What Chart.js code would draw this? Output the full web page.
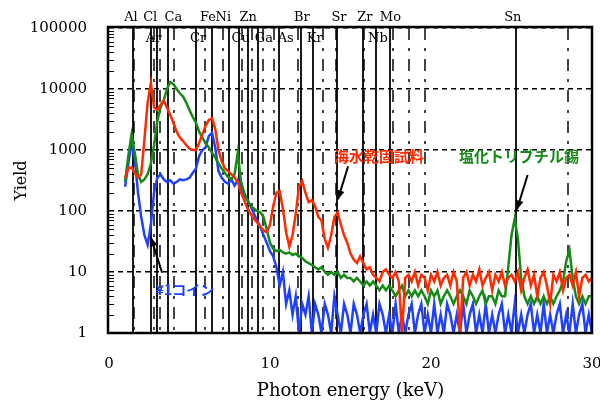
<!DOCTYPE html>
<html><head><meta charset="utf-8">
<script src="https://cdn.jsdelivr.net/npm/chart.js@4"></script>
<style>html,body{margin:0;padding:0;background:#fff}</style>
</head><body>
<canvas id="c" width="600" height="403"></canvas>
<script>
const energy = [1.0,1.2,1.4,1.6,1.8,2.0,2.2,2.4,2.6,2.8,3.0,3.2,3.4,3.6,3.8,4.0,4.2,4.4,4.6,4.8,
5.0,5.2,5.4,5.6,5.8,6.0,6.2,6.4,6.6,6.8,7.0,7.2,7.4,7.6,7.8,8.0,8.2,8.4,8.6,8.8,
9.0,9.2,9.4,9.6,9.8,10.0,10.2,10.4,10.6,10.8,11.0,11.2,11.4,11.6,11.8,12.0,12.2,12.4,12.6,12.8,
13.0,13.2,13.4,13.6,13.8,14.0,14.2,14.4,14.6,14.8,15.0,15.2,15.4,15.6,15.8,16.0,16.2,16.4,16.6,16.8,
17.0,17.2,17.4,17.6,17.8,18.0,18.2,18.4,18.6,18.8,19.0,19.2,19.4,19.6,19.8,20.0,20.2,20.4,20.6,20.8,
21.0,21.2,21.4,21.6,21.8,22.0,22.2,22.4,22.6,22.8,23.0,23.2,23.4,23.6,23.8,24.0,24.2,24.4,24.6,24.8,
25.0,25.2,25.4,25.6,25.8,26.0,26.2,26.4,26.6,26.8,27.0,27.2,27.4,27.6,27.8,28.0,28.2,28.4,28.6,28.8,
29.0,29.2,29.4,29.6,29.8,30.0];

const coinYield = [250,600,1300,700,200,80,40,28,60,200,350,400,330,300,320,280,300,330,320,330,
350,420,500,800,1000,1100,1700,1900,1100,450,350,300,280,330,260,320,250,180,150,120,
90,70,55,40,30,22,18,12,6,10,3,5,2,4,1,3,2,4,1,3,
2,1,3,2,1,4,2,1,3,2,1,3,2,1,2,3,1,2,1,3,
2,1,2,1,3,1,2,1,2,3,1,2,3,1,2,1,3,1,2,1,
3,2,1,2,1,3,1,2,3,1,2,1,3,1,2,1,2,3,1,2,
1,3,1,2,1,2,3,1,2,1,3,1,2,1,2,3,1,2,1,3,
1,2,3,1,2,1];

const seawaterYield = [350,500,520,420,350,400,1500,6000,12500,5000,4500,5500,6500,5000,3800,2800,2000,1600,1400,1200,
1050,1000,1000,1300,1800,2500,3100,3300,2200,1000,650,500,450,400,350,300,200,150,110,90,
75,65,55,48,45,60,120,200,210,110,45,26,40,90,250,310,200,140,150,120,
80,70,35,25,40,80,95,60,40,30,20,16,14,18,14,11,12,9,8,7,
10,11,9,8,10,7,1,8,9,7,10,6,9,8,5,9,7,10,6,8,
9,6,10,7,1,8,10,6,9,7,11,6,8,10,5,9,7,10,6,8,
9,7,10,5,8,11,6,9,4,8,10,6,3,9,7,10,5,8,9,6,
10,4,8,9,7,8];

const tbtYield = [300,800,1800,900,400,300,330,400,600,1200,3000,5000,6500,10000,13000,12000,10000,8500,7500,6000,
4500,3500,2800,2000,1600,1300,1100,900,750,600,500,420,360,330,400,900,300,200,150,120,
110,100,95,80,50,30,24,22,23,21,20,21,19,20,18,17,15,14,13,12,
11,12,10,9,10,9,10,8,9,8,8,7,8,7,6,7,6,7,6,5,
6,5,6,5,4,5,6,4,5,4,5,4,5,4,3,5,4,5,3,4,
5,4,3,4,5,4,3,5,4,3,4,5,3,4,4,3,5,4,4,12,
40,75,35,8,4,3,4,3,4,3,4,3,4,3,4,5,7,15,23,8,
4,3,4,3,4,4];

const xTicks = [0,10,20,30];
const yTicks = [1,10,100,1000,10000,100000];

const elements = ['Al','Cl','Ar','Ca','Cr','Fe','Ni','Cu','Zn','Ga','As','Br','Kr','Sr','Zr','Nb','Mo','Sn'];
const kAlpha   = [1.49,2.62,2.96,3.69,5.41,6.40,7.47,8.05,8.64,9.25,10.54,11.92,12.65,14.16,15.77,16.58,17.48,25.27];
const kBeta    = [1.55,2.82,3.19,4.01,5.95,7.06,8.26,8.90,9.57,10.26,11.73,13.29,14.11,15.84,17.67,18.62,19.61,28.49];
const labelRow = [1,1,2,1,2,1,1,2,1,2,2,1,2,1,1,2,1,1];
const labelShiftPx = [-2,-1,-3,5,2,-4,-6,2,0,6,7,1,2,2,2,2,0,-3];

const notes = ['海水乾固試料','塩化トリブチル錫','¥1コイン'];
const noteColor = ['#ff2a00','#168a16','#2040ff'];
const noteAt = [[16.77,794],[25.47,794],[4.72,5.1]];
const arrowFrom = [[14.85,540],[26.0,390],[3.3,9.7]];
const arrowTo = [[14.22,155],[25.34,106],[2.6,37]];

function isPow10(v){ const l=Math.log10(v); return Math.abs(l-Math.round(l))<1e-9; }
const SERIF = '"DejaVu Serif", serif';

const marks = {
  id:'marks',
  beforeDatasetsDraw(chart){
    const {ctx, chartArea:a, scales:{x}} = chart;
    ctx.save();
    ctx.beginPath(); ctx.rect(a.left,a.top,a.right-a.left,a.bottom-a.top); ctx.clip();
    ctx.strokeStyle='#444'; ctx.lineWidth=2; ctx.setLineDash([12,8,3,8]);
    kBeta.forEach(e=>{ const p=Math.round(x.getPixelForValue(e)); ctx.beginPath(); ctx.moveTo(p,a.top); ctx.lineTo(p,a.bottom); ctx.stroke(); });
    ctx.strokeStyle='#000'; ctx.lineWidth=1.8; ctx.setLineDash([]);
    kAlpha.forEach(e=>{ const p=Math.round(x.getPixelForValue(e)); ctx.beginPath(); ctx.moveTo(p,a.top); ctx.lineTo(p,a.bottom); ctx.stroke(); });
    ctx.restore();
  },
  afterDatasetsDraw(chart){
    const {ctx, chartArea:a, scales:{x,y}} = chart;
    ctx.save();
    // frame
    ctx.strokeStyle='#000'; ctx.lineWidth=2.5; ctx.setLineDash([]);
    ctx.strokeRect(a.left-1,a.top-1,a.right-a.left+1,a.bottom-a.top+1);
    // minor ticks on left axis
    ctx.lineWidth=1;
    y.ticks.forEach(t=>{
      if(isPow10(t.value)) return;
      const m = t.value/Math.pow(10,Math.floor(Math.log10(t.value)+1e-9));
      if(Math.abs(m-Math.round(m))>1e-6) return;
      const p=Math.round(y.getPixelForValue(t.value))+0.5;
      ctx.beginPath(); ctx.moveTo(a.left,p); ctx.lineTo(a.left+5,p); ctx.stroke();
    });
    // element labels
    ctx.fillStyle='#000'; ctx.font='13px '+SERIF; ctx.textAlign='center'; ctx.textBaseline='middle';
    elements.forEach((el,i)=>{
      const px = x.getPixelForValue(kAlpha[i]) + labelShiftPx[i];
      const py = labelRow[i]===1 ? a.top-10 : a.top+11;
      ctx.fillText(el, px, py);
    });
    // notes
    notes.forEach((t,i)=>{
      ctx.font = 'bold '+(i===2?14:15)+'px "Noto Sans CJK JP", sans-serif';
      ctx.fillStyle = noteColor[i];
      ctx.fillText(t, x.getPixelForValue(noteAt[i][0]), y.getPixelForValue(noteAt[i][1]));
      const x0=x.getPixelForValue(arrowFrom[i][0]), y0=y.getPixelForValue(arrowFrom[i][1]);
      const x1=x.getPixelForValue(arrowTo[i][0]), y1=y.getPixelForValue(arrowTo[i][1]);
      ctx.strokeStyle='#000'; ctx.fillStyle='#000'; ctx.lineWidth=2;
      ctx.beginPath(); ctx.moveTo(x0,y0); ctx.lineTo(x1,y1); ctx.stroke();
      const ang=Math.atan2(y1-y0,x1-x0), L=9, W=4;
      ctx.beginPath(); ctx.moveTo(x1,y1);
      ctx.lineTo(x1-L*Math.cos(ang)+W*Math.sin(ang), y1-L*Math.sin(ang)-W*Math.cos(ang));
      ctx.lineTo(x1-L*Math.cos(ang)-W*Math.sin(ang), y1-L*Math.sin(ang)+W*Math.cos(ang));
      ctx.closePath(); ctx.fill();
    });
    ctx.restore();
  }
};

const mk = (arr)=>energy.map((e,i)=>({x:e,y:arr[i]}));
new Chart(document.getElementById('c'), {
  type:'line',
  data:{datasets:[
    {label:'海水乾固試料', data:mk(seawaterYield), borderColor:'#ff2a00', borderWidth:2.5, pointRadius:0, order:0},
    {label:'塩化トリブチル錫', data:mk(tbtYield), borderColor:'#168a16', borderWidth:2.5, pointRadius:0, order:1},
    {label:'¥1コイン', data:mk(coinYield), borderColor:'#2040ff', borderWidth:2.5, pointRadius:0, order:2}
  ]},
  options:{
    responsive:false, animation:false, devicePixelRatio:1,
    layout:{padding:{top:28,right:8,bottom:0,left:0}},
    plugins:{legend:{display:false}, tooltip:{enabled:false}},
    scales:{
      x:{type:'linear', min:0, max:30,
        afterBuildTicks(s){ s.ticks = xTicks.map(v=>({value:v})); },
        ticks:{color:'#000', font:{family:SERIF,size:15}, padding:22, maxRotation:0},
        grid:{display:false, drawTicks:false}, border:{display:false},
        title:{display:true, text:'Photon energy (keV)', color:'#000', font:{family:SERIF,size:18}, padding:{top:0,bottom:1}},
        afterFit(s){ s.height=70; s.paddingLeft=0; s.paddingRight=0; }
      },
      y:{type:'logarithmic', min:1, max:100000,
        ticks:{autoSkip:false, color:'#000', font:{family:SERIF,size:15}, padding:22,
          callback:(v)=> yTicks.includes(v) ? String(v) : ''},
        grid:{drawTicks:false, lineWidth:1.5, color:(c)=> (c.tick && isPow10(c.tick.value)) ? '#000' : 'rgba(0,0,0,0)'},
        border:{display:false, dash:[5,4]},
        title:{display:true, text:'Yield', color:'#000', font:{family:SERIF,size:16}, padding:{top:12,bottom:0}},
        afterFit(s){ s.width=109; s.paddingTop=0; s.paddingBottom=0; }
      }
    }
  },
  plugins:[marks]
});
</script>
</body></html>
